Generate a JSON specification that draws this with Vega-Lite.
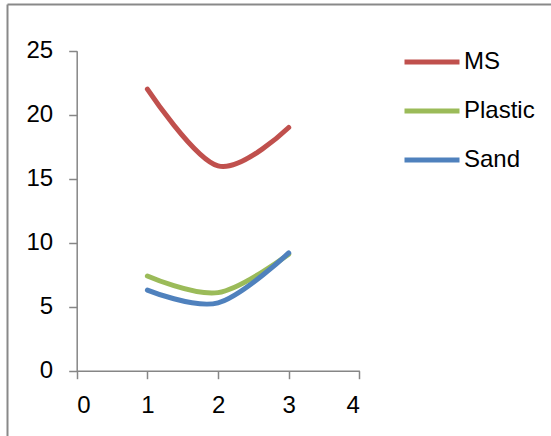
{
  "$schema": "https://vega.github.io/schema/vega-lite/v6.json",
  "width": 544,
  "height": 432,
  "autosize": {"type": "none"},
  "padding": {"left": 7, "top": 4, "right": 0, "bottom": 0},
  "background": "white",
  "config": {"view": {"stroke": null}, "font": "Liberation Sans"},
  "data": {
    "values": [
      {"x": 1, "value": 22, "series": "MS"},
      {"x": 2, "value": 16, "series": "MS"},
      {"x": 3, "value": 19, "series": "MS"},
      {"x": 1, "value": 7.4, "series": "Plastic"},
      {"x": 2, "value": 6.1, "series": "Plastic"},
      {"x": 3, "value": 9.1, "series": "Plastic"},
      {"x": 1, "value": 6.3, "series": "Sand"},
      {"x": 2, "value": 5.3, "series": "Sand"},
      {"x": 3, "value": 9.2, "series": "Sand"}
    ]
  },
  "resolve": {
    "scale": {"x": "independent", "y": "independent"},
    "axis": {"x": "independent", "y": "independent"}
  },
  "layer": [
    {
      "mark": {"type": "line", "interpolate": "cardinal", "strokeWidth": 5, "strokeCap": "round"},
      "encoding": {
        "x": {
          "field": "x",
          "type": "quantitative",
          "scale": {"domain": [0, 4], "nice": false, "zero": false, "range": [69.7, 352.4]},
          "axis": {
            "orient": "bottom",
            "title": null,
            "values": [0, 1, 2, 3, 4],
            "format": "d",
            "grid": false,
            "offset": -65.3,
            "domainColor": "#868686",
            "domainWidth": 1.5,
            "tickColor": "#868686",
            "tickWidth": 1.5,
            "tickSize": 8,
            "labelFontSize": 24,
            "labelColor": "#000000",
            "labelPadding": 15
          }
        },
        "y": {
          "field": "value",
          "type": "quantitative",
          "scale": {"domain": [0, 25], "nice": false, "range": [366.7, 46.7]},
          "axis": {
            "orient": "left",
            "title": null,
            "values": [0, 5, 10, 15, 20, 25],
            "format": "d",
            "grid": false,
            "offset": -69.7,
            "domainColor": "#868686",
            "domainWidth": 1.5,
            "tickColor": "#868686",
            "tickWidth": 1.5,
            "tickSize": 8,
            "labelFontSize": 24,
            "labelColor": "#000000",
            "labelPadding": 16
          }
        },
        "color": {
          "field": "series",
          "type": "nominal",
          "scale": {"domain": ["MS", "Plastic", "Sand"], "range": ["#C0504D", "#9BBB59", "#4F81BD"]},
          "legend": {
            "title": null,
            "orient": "none",
            "legendX": 395,
            "legendY": 28,
            "padding": 0,
            "symbolType": "stroke",
            "symbolSize": 3025,
            "symbolStrokeWidth": 5,
            "labelFontSize": 24,
            "labelColor": "#000000",
            "labelOffset": 2,
            "rowPadding": 7
          }
        }
      }
    },
    {
      "mark": {"type": "point", "opacity": 0},
      "encoding": {
        "x": {
          "field": "x",
          "type": "quantitative",
          "scale": {"domain": [0, 10], "nice": false, "zero": false},
          "axis": {"orient": "top", "title": null, "ticks": false, "labels": false, "grid": false, "domainColor": "#898989", "domainWidth": 2}
        },
        "y": {
          "field": "value",
          "type": "quantitative",
          "scale": {"domain": [0, 30], "nice": false},
          "axis": {"orient": "left", "title": null, "ticks": false, "labels": false, "grid": false, "domainColor": "#898989", "domainWidth": 2}
        }
      }
    }
  ]
}
